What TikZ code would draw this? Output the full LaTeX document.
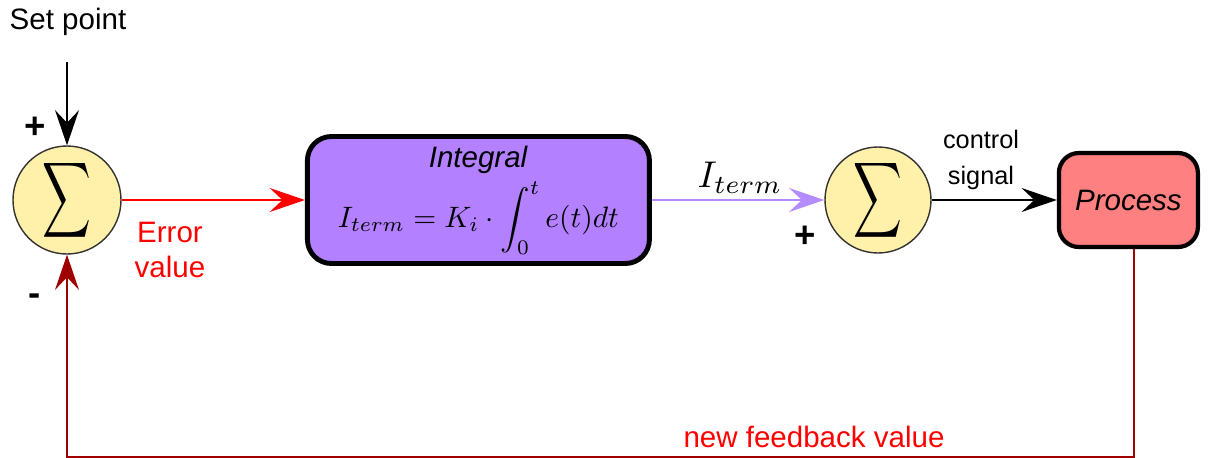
\documentclass[tikz,border=0pt]{standalone}
\usepackage{fontspec}
\setmainfont{Liberation Sans}
\usepackage{graphicx}
\usetikzlibrary{positioning, calc, arrows.meta}
\definecolor{sumyellow}{RGB}{255,240,170}
\definecolor{intpurple}{RGB}{179,128,255}
\definecolor{arrowpurple}{RGB}{180,140,255}
\definecolor{procred}{RGB}{255,128,128}
\definecolor{fbred}{RGB}{160,0,0}
\tikzset{
  sumnode/.style={circle, draw=black!80, line width=1pt, fill=sumyellow, inner sep=0pt, minimum size=2.7cm}
}
\tikzset{
  bigtext/.style={font=\fontsize{21}{25.5}\selectfont},
  midtext/.style={font=\fontsize{18}{25}\selectfont},
  signtext/.style={font=\fontsize{26}{28}\selectfont\bfseries}
}
\tikzset{
  sigarrow/.style={line width=1.6pt, -{Stealth[length=25pt, width=17pt, inset=9pt]}}
}
% math is set at 10pt and then blown up
\newcommand{\bigmath}[2]{\scalebox{#1}{\fontsize{10}{12}\selectfont$#2$}}
\newcommand{\sumsign}{\scalebox{2.4}[3.75]{\fontsize{10}{12}\selectfont$\displaystyle\sum$}}

\begin{document}
\begin{tikzpicture}
  \useasboundingbox (0,0) rectangle (30.3,-11.425);
  % summing junctions
  \node[sumnode] (sumA) at (1.675,-5.0) {\sumsign};
  \node[sumnode, minimum size=2.65cm] (sumB) at (21.95,-5.0) {\sumsign};
  \node[bigtext] (setpt) at (1.7,-0.55) {Set point};
  \coordinate (spin) at (1.675,-1.55);
  \node[signtext] (plusA) at (0.875,-3.2) {+};
  \node[signtext] (minusA) at (0.875,-7.5) {-};
  \node[signtext] (plusB) at (20.125,-5.925) {+};
  % integral block and process
  \node[draw, line width=3.5pt, rounded corners=0.6cm, fill=intpurple, minimum width=8.55cm, minimum height=3.175cm, align=center, bigtext] (integ) at (11.96,-5.0)
    {\textit{Integral}\\[5pt] \bigmath{2.1}{I_{term} = K_i \cdot \displaystyle\int_0^t e(t)dt}};
  \node[draw, line width=3pt, rounded corners=0.5cm, fill=procred, minimum width=3.475cm, minimum height=2.35cm, bigtext] (proc) at (28.21,-5.0) {\textit{Process}};
  % forward path
  \draw[sigarrow, black] (spin) -- (sumA.north);
  \draw[sigarrow, red] (sumA.east) -- (integ.west);
  \node[bigtext, red, align=center] (errlbl) at (4.25,-6.25) {Error\\value};
  \draw[sigarrow, arrowpurple] (integ.east) -- (sumB.west);
  \node (itlbl) at (18.5,-4.45) {\bigmath{2.65}{I_{term}}};
  \draw[sigarrow, black] (sumB.east) -- (proc.west);
  \node[midtext, align=center] (ctrllbl) at (24.525,-4.0) {control\\signal};
  % feedback loop along the bottom edge
  \coordinate (fbR) at ($(proc.south)+(0.14,0)$);
  \coordinate (fbL) at (1.675,-11.44);
  \draw[sigarrow, fbred] (fbR) |- (fbL) -- (sumA.south);
  \node[bigtext, red] (fblbl) at (20.35,-10.925) {new feedback value};
\end{tikzpicture}
\end{document}
